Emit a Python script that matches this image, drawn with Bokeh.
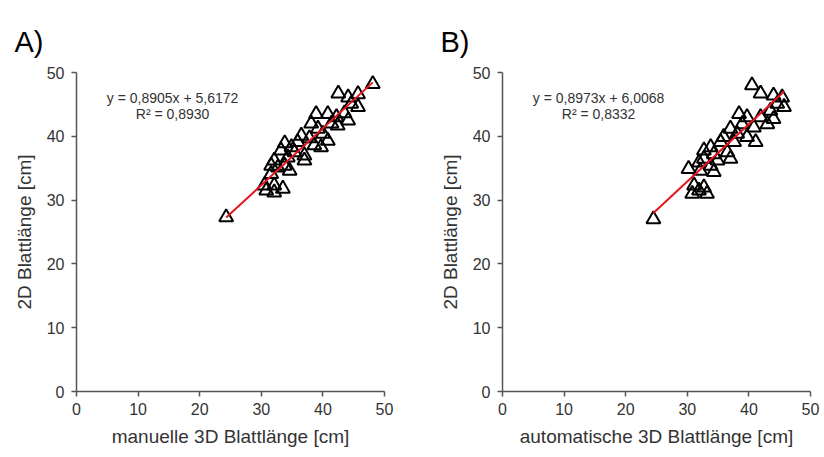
from bokeh.plotting import figure
from bokeh.layouts import row
from bokeh.models import Range1d, Label, FixedTicker
from bokeh.embed import file_html
from bokeh.resources import INLINE

# Panel A: manual 3D leaf length vs 2D leaf length
a_x = [24.3, 30.5, 30.8, 31.6, 31.6, 32.1, 32.1, 32.1, 32.7, 33.2, 33.5, 33.8, 33.8,
       34.3, 34.6, 34.9, 35.4, 35.9, 36.5, 37.0, 37.0, 37.8, 38.1, 38.6, 38.9, 39.2,
       39.7, 40.0, 40.8, 40.8, 41.4, 42.2, 42.4, 42.5, 43.5, 44.1, 44.1, 44.6, 45.7,
       45.7, 48.1]
a_y = [27.3, 32.3, 31.5, 35.4, 34.1, 36.2, 32.3, 31.2, 35.1, 37.8, 31.8, 38.9, 35.4,
       36.7, 34.6, 38.3, 37.5, 39.1, 40.1, 37.0, 36.2, 39.7, 42.0, 38.6, 43.5, 41.2,
       38.3, 40.4, 43.5, 39.3, 42.0, 43.0, 41.7, 46.7, 43.6, 46.1, 42.5, 45.1, 46.6,
       44.6, 48.2]
a_slope, a_icpt = 0.8905, 5.6172
a_eq = "y = 0,8905x + 5,6172"
a_r2 = "R² = 0,8930"

# Panel B: automatic 3D leaf length vs 2D leaf length
b_x = [24.5, 30.2, 30.8, 31.1, 31.9, 31.9, 32.1, 32.7, 32.7, 32.7, 33.2, 33.8, 33.8,
       34.3, 34.3, 34.9, 35.4, 35.9, 36.5, 37.0, 37.0, 37.6, 38.1, 38.4, 38.9, 39.7,
       39.7, 40.5, 40.8, 41.1, 41.9, 41.9, 43.0, 43.5, 44.0, 44.0, 44.6, 45.4, 45.7]
b_y = [27.0, 34.9, 31.0, 32.3, 35.9, 31.5, 34.6, 37.8, 36.5, 32.0, 31.0, 38.3, 35.4,
       37.2, 34.4, 36.2, 39.1, 39.9, 37.5, 41.2, 36.5, 39.1, 40.4, 43.5, 41.9, 43.0,
       39.9, 48.0, 41.4, 39.1, 46.7, 43.0, 41.9, 44.0, 46.4, 42.7, 45.1, 46.1, 44.6]
b_slope, b_icpt = 0.8973, 6.0068
b_eq = "y = 0,8973x + 6,0068"
b_r2 = "R² = 0,8332"

ticks = [0, 10, 20, 30, 40, 50]
FONT = "Liberation Sans"
AX = "#555555"
TXT = "#333333"


def make_panel(xs, ys, slope, icpt, eq, r2, letter, xlabel, width, left, right, title_offset):
    p = figure(width=width, height=457, output_backend="svg", toolbar_location=None,
               x_range=Range1d(0, 50), y_range=Range1d(0, 50),
               min_border_left=left, min_border_right=right,
               min_border_top=72, min_border_bottom=66)
    p.outline_line_color = None
    p.grid.grid_line_color = None
    p.title.text = letter
    p.title.text_font = FONT
    p.title.text_font_size = "29px"
    p.title.text_font_style = "normal"
    p.title.text_color = "black"
    p.title.align = "left"
    p.title.offset = title_offset
    p.title.standoff = 30
    for ax in (p.xaxis[0], p.yaxis[0]):
        ax.ticker = FixedTicker(ticks=ticks)
        ax.axis_line_color = AX
        ax.axis_line_width = 1.5
        ax.major_tick_line_color = AX
        ax.major_tick_line_width = 1.5
        ax.major_tick_out = 5
        ax.major_tick_in = 0
        ax.minor_tick_line_color = None
        ax.major_label_text_font = FONT
        ax.major_label_text_font_size = "16px"
        ax.major_label_text_color = TXT
        ax.axis_label_text_font = FONT
        ax.axis_label_text_font_size = "19px"
        ax.axis_label_text_font_style = "normal"
        ax.axis_label_text_color = TXT
    p.xaxis.axis_label = xlabel
    p.yaxis.axis_label = "2D Blattlänge [cm]"
    p.xaxis.major_label_standoff = 6
    p.yaxis.major_label_standoff = 7
    p.xaxis.axis_label_standoff = 8
    p.yaxis.axis_label_standoff = 9

    p.scatter(xs, ys, marker="triangle", size=14, fill_color=None,
              line_color="black", line_width=2)
    x0, x1 = min(xs), max(xs)
    p.line([x0, x1], [slope * x0 + icpt, slope * x1 + icpt], line_color="#e8141c", line_width=2)

    p.add_layout(Label(x=15.6, y=46.0, text=eq, text_align="center", text_baseline="middle",
                       text_font=FONT, text_font_size="14px", text_color=TXT))
    p.add_layout(Label(x=15.6, y=43.5, text=r2, text_align="center", text_baseline="middle",
                       text_font=FONT, text_font_size="14px", text_color=TXT))
    return p


pa = make_panel(a_x, a_y, a_slope, a_icpt, a_eq, a_r2, "A)", "manuelle 3D Blattlänge [cm]",
                420, 76, 36, -62)
pb = make_panel(b_x, b_y, b_slope, b_icpt, b_eq, b_r2, "B)", "automatische 3D Blattlänge [cm]",
                404, 82, 14, -62)

layout = row(pa, pb)
open("out.html", "w").write(file_html(layout, INLINE))
